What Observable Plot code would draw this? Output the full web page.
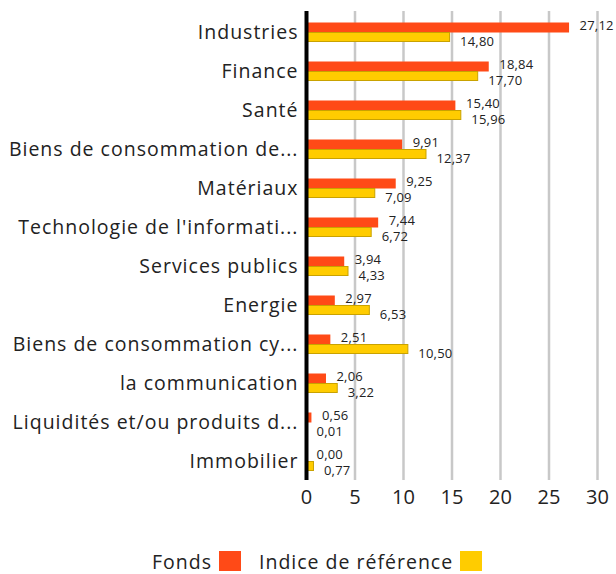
<!DOCTYPE html>
<html><head><meta charset="utf-8">
<script src="https://cdn.jsdelivr.net/npm/d3@7"></script>
<script src="https://cdn.jsdelivr.net/npm/@observablehq/plot@0.6"></script>
<style>
body{margin:0;background:#fff;font-family:"Open Sans",sans-serif;color:#222}
#legend{display:flex;align-items:center;margin-left:152px;margin-top:30px;font-size:19.5px;letter-spacing:1px;height:22px}
#legend .sw{width:22px;height:20px;display:inline-block}
g[aria-label="y-axis tick label"] text{letter-spacing:1px}
g[aria-label="text"] text{letter-spacing:0.2px}
</style>
</head><body><div id="chart"></div>
<script>
const categories = ["Industries","Finance","Santé","Biens de consommation de...","Matériaux","Technologie de l'informati...","Services publics","Energie","Biens de consommation cy...","la communication","Liquidités et/ou produits d...","Immobilier"];
const fonds = [27.12, 18.84, 15.40, 9.91, 9.25, 7.44, 3.94, 2.97, 2.51, 2.06, 0.56, 0.00];
const indice = [14.80, 17.70, 15.96, 12.37, 7.09, 6.72, 4.33, 6.53, 10.50, 3.22, 0.01, 0.77];
const xTicks = [0, 5, 10, 15, 20, 25, 30];
const seriesNames = ["Fonds", "Indice de référence"];
const colors = ["#ff4a17", "#ffcc00"];

const rowsF = categories.map((c, i) => ({category: c, value: fonds[i]}));
const rowsI = categories.map((c, i) => ({category: c, value: indice[i]}));
const fmt = v => v.toFixed(2).replace(".", ",");

const chart = Plot.plot({
  width: 616, height: 520,
  marginLeft: 306, marginRight: 19, marginTop: 11, marginBottom: 40,
  style: {fontFamily: "'Open Sans', sans-serif", color: "#222", background: "#fff"},
  x: {domain: [0, 30]},
  y: {domain: categories, padding: 0},
  marks: [
    Plot.ruleX(xTicks.filter(d => d > 0), {stroke: "#c8c8c8", strokeWidth: 2.5}),
    Plot.barX(rowsF, {x: "value", y: "category", fill: colors[0], insetTop: 10.5, insetBottom: 18.5}),
    Plot.barX(rowsI, {x: "value", y: "category", fill: colors[1], stroke: "#c9a200", strokeWidth: 1, insetTop: 20.5, insetBottom: 9.5}),
    Plot.text(rowsF, {x: "value", y: "category", text: d => fmt(d.value), dx: 10, dy: -6, textAnchor: "start", fontSize: 13, fill: "#222"}),
    Plot.text(rowsI, {x: "value", y: "category", text: d => fmt(d.value), dx: 10, dy: 10, textAnchor: "start", fontSize: 13, fill: "#222"}),
    Plot.ruleX([0], {stroke: "#000", strokeWidth: 4}),
    Plot.axisX({ticks: xTicks, tickSize: 0, tickPadding: 9, fontSize: 20, label: null, tickFormat: d => d}),
    Plot.axisY({tickSize: 0, tickPadding: 8, fontSize: 19.5, label: null, dy: 1})
  ]
});
document.getElementById("chart").append(chart);

const legend = document.createElement("div");
legend.id = "legend";
seriesNames.forEach((name, i) => {
  const t = document.createElement("span");
  t.textContent = name;
  t.style.marginRight = "7px";
  const sw = document.createElement("span");
  sw.className = "sw";
  sw.style.background = colors[i];
  if (i === 0) sw.style.marginRight = "18px";
  legend.append(t, sw);
});
document.body.append(legend);
</script>
</body></html>
